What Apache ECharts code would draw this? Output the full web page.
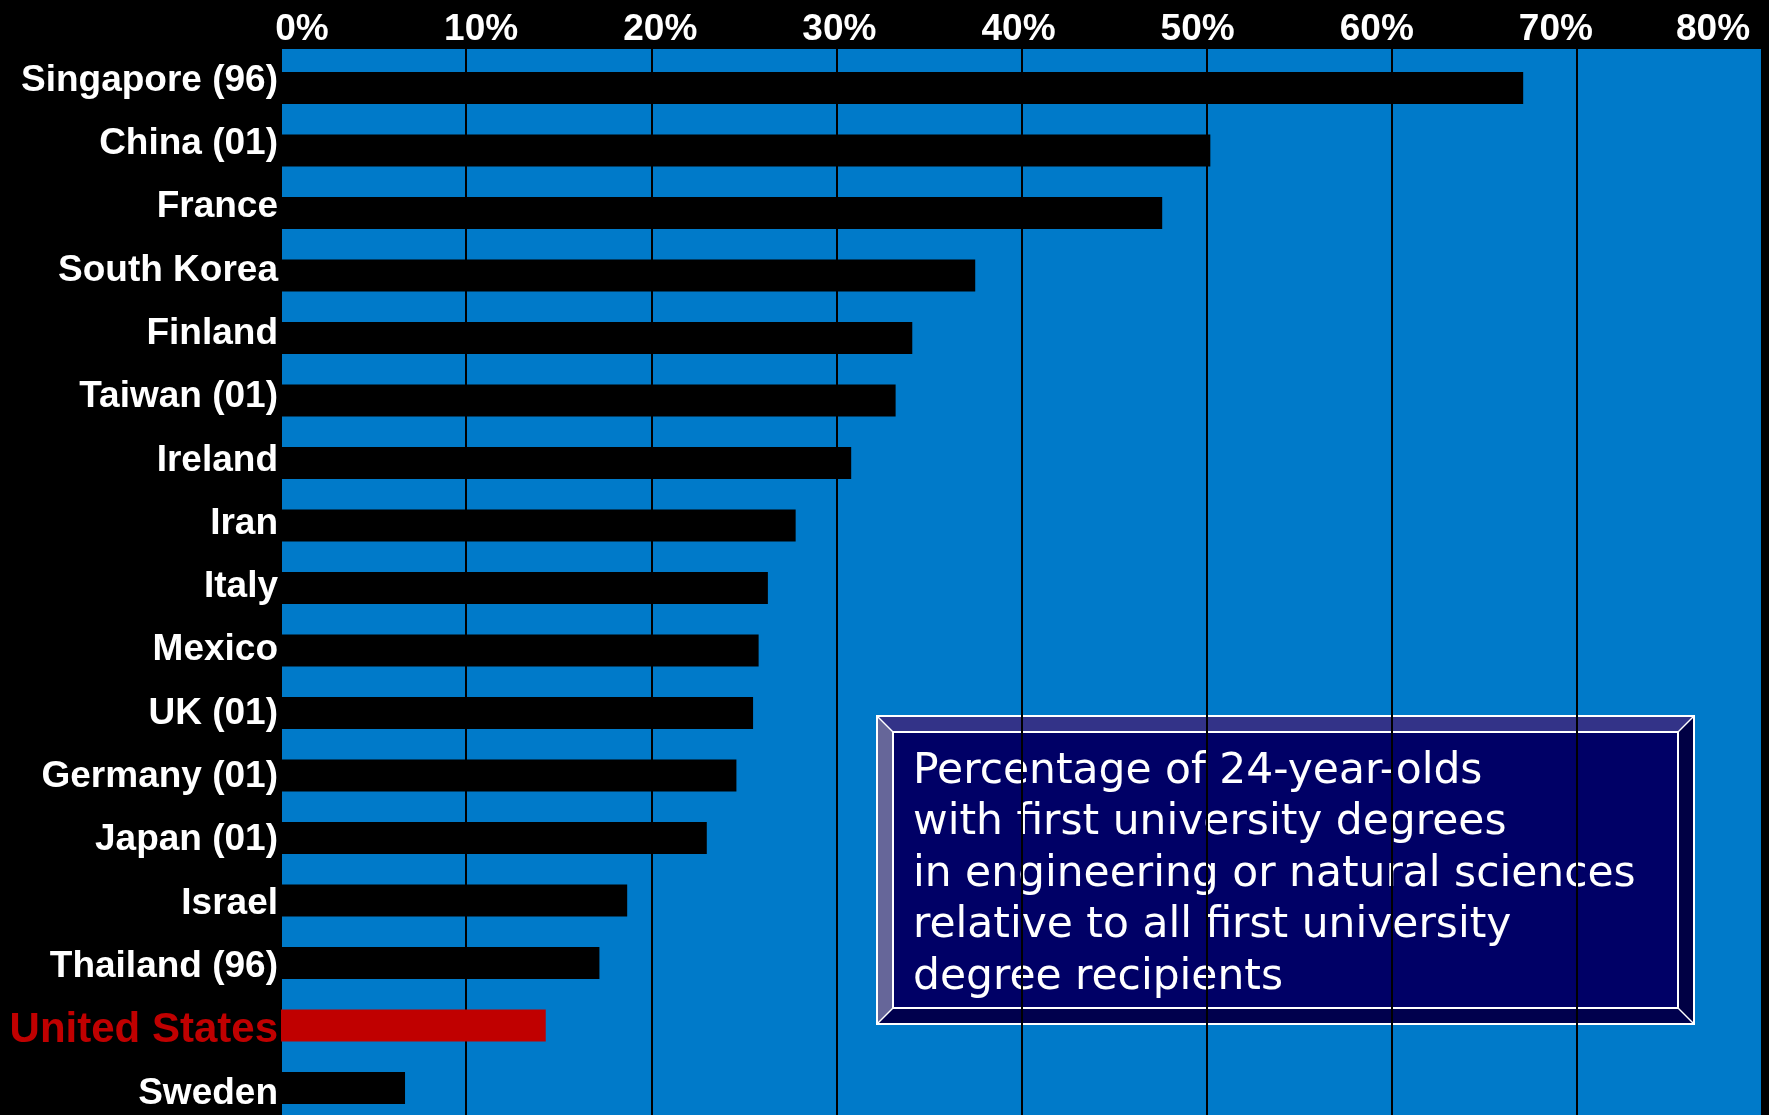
<!DOCTYPE html>
<html>
<head>
<meta charset="utf-8">
<title>Engineering and natural science degrees</title>
<script src="https://cdn.jsdelivr.net/npm/echarts@6/dist/echarts.min.js"></script>
<style>
  html, body { margin: 0; padding: 0; background: #000; overflow: hidden; }
  #main { width: 1769px; height: 1125px; }
</style>
</head>
<body>
<div id="main"></div>
<script>
// 数据
const countries = ['Singapore (96)', 'China (01)', 'France', 'South Korea', 'Finland', 'Taiwan (01)',
  'Ireland', 'Iran', 'Italy', 'Mexico', 'UK (01)', 'Germany (01)', 'Japan (01)', 'Israel',
  'Thailand (96)', 'United States', 'Sweden']
const shares = [67.1, 50.2, 47.6, 37.5, 34.1, 33.2, 30.8, 27.8, 26.3, 25.8, 25.5, 24.6, 23.0, 18.7, 17.2, 14.3, 6.7]
const tickLabels = ['0%', '10%', '20%', '30%', '40%', '50%', '60%', '70%', '80%']
const highlight = 'United States'
const noteLines = ['Percentage of 24-year-olds', 'with first university degrees',
  'in engineering or natural sciences', 'relative to all first university', 'degree recipients']

window.onload = function () {
  // 画布比窗口略高, 最下面的条形不会被压缩
  var myChart = echarts.init(document.getElementById('main'), null, { renderer: 'canvas' })
  const font = 'Liberation Sans'

  let barData = shares.map((v, i) => {
    if (countries[i] === highlight) {
      return { value: v, itemStyle: { color: '#C00000' } }
    }
    return v
  })

  // 说明框 (bevelled box)
  let x0 = 877, y0 = 716, x1 = 1694, y1 = 1024, b = 16
  let box = {
    type: 'group',
    z: 100,
    children: [
      { type: 'polygon', shape: { points: [[x0, y0], [x1, y0], [x1 - b, y0 + b], [x0 + b, y0 + b]] }, style: { fill: '#333388' } },
      { type: 'polygon', shape: { points: [[x0, y0], [x0 + b, y0 + b], [x0 + b, y1 - b], [x0, y1]] }, style: { fill: '#666699' } },
      { type: 'polygon', shape: { points: [[x1, y0], [x1, y1], [x1 - b, y1 - b], [x1 - b, y0 + b]] }, style: { fill: '#000044' } },
      { type: 'polygon', shape: { points: [[x0, y1], [x0 + b, y1 - b], [x1 - b, y1 - b], [x1, y1]] }, style: { fill: '#00004D' } },
      { type: 'rect', shape: { x: x0 + b, y: y0 + b, width: x1 - x0 - 2 * b, height: y1 - y0 - 2 * b }, style: { fill: '#000066', stroke: '#fff', lineWidth: 2 } },
      { type: 'rect', shape: { x: x0, y: y0, width: x1 - x0, height: y1 - y0 }, style: { fill: 'none', stroke: '#fff', lineWidth: 2 } },
      { type: 'line', shape: { x1: x0, y1: y0, x2: x0 + b, y2: y0 + b }, style: { stroke: '#fff', lineWidth: 1.5 } },
      { type: 'line', shape: { x1: x1, y1: y0, x2: x1 - b, y2: y0 + b }, style: { stroke: '#fff', lineWidth: 1.5 } },
      { type: 'line', shape: { x1: x0, y1: y1, x2: x0 + b, y2: y1 - b }, style: { stroke: '#fff', lineWidth: 1.5 } },
      { type: 'line', shape: { x1: x1, y1: y1, x2: x1 - b, y2: y1 - b }, style: { stroke: '#fff', lineWidth: 1.5 } },
      {
        type: 'text', x: 913, y: 746,
        style: {
          text: noteLines.join('\n'), fill: '#fff', fontSize: 42.4, fontFamily: 'DejaVu Sans',
          lineHeight: 51.5, verticalAlign: 'top', align: 'left'
        }
      }
    ]
  }

  let option = {
    backgroundColor: '#000',
    animation: false,
    grid: [
      { left: 281, width: 1481, top: 49, bottom: 0, show: true, backgroundColor: '#007AC9', borderWidth: 0 },
      { left: 281, width: 1481, top: 56.75, height: 1062.5, show: false },
      { left: 302, width: 1433, top: 49, height: 10, show: false }
    ],
    xAxis: [
      {
        gridIndex: 0, type: 'value', min: 0, max: 80, interval: 10,
        axisLabel: { show: false }, axisLine: { show: false }, axisTick: { show: false },
        splitLine: { show: true, lineStyle: { color: '#000', width: 2 } }
      },
      { gridIndex: 1, type: 'value', min: 0, max: 80, show: false },
      {
        gridIndex: 2, type: 'value', min: 0, max: 80, interval: 10, position: 'top',
        axisLine: { show: false }, axisTick: { show: false }, splitLine: { show: false },
        axisLabel: {
          margin: 1, color: '#fff', fontSize: 37, fontWeight: 'bold', fontFamily: font,
          formatter: function (v) {
            let t = tickLabels[Math.round(v / 10)]
            return v === 80 ? '{last|' + t + '}' : t
          },
          rich: {
            last: { color: '#fff', fontSize: 37, fontWeight: 'bold', fontFamily: font, padding: [0, 44, 0, 0] }
          }
        }
      }
    ],
    yAxis: [
      {
        // 国家名称标签 (和条形的间距稍有不同)
        gridIndex: 0, type: 'category', data: countries, inverse: true,
        axisLine: { show: false }, axisTick: { show: false },
        axisLabel: {
          margin: 3, color: '#fff', fontSize: 37, fontWeight: 'bold', fontFamily: font,
          formatter: function (name) {
            return name === highlight ? '{us|' + name + '}' : name
          },
          rich: {
            us: { color: '#C00000', fontSize: 42, fontWeight: 'bold', fontFamily: font }
          }
        }
      },
      { gridIndex: 1, type: 'category', data: countries, inverse: true, show: false },
      { gridIndex: 2, type: 'value', show: false }
    ],
    series: [
      {
        type: 'bar', xAxisIndex: 1, yAxisIndex: 1,
        barWidth: 32,
        itemStyle: { color: '#000' },
        data: barData
      }
    ],
    graphic: [box]
  }

  myChart.setOption(option)
}
</script>
</body>
</html>
